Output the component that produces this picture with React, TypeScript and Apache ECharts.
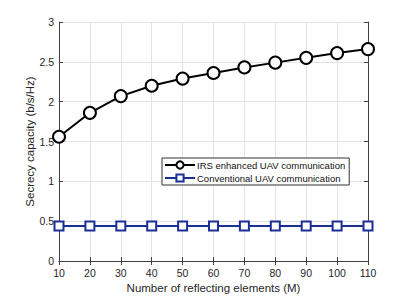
import React, { useEffect, useRef } from "react";
import * as echarts from "echarts";

const elements = [10, 20, 30, 40, 50, 60, 70, 80, 90, 100, 110];
const irsValues = [1.56, 1.86, 2.07, 2.2, 2.29, 2.36, 2.43, 2.49, 2.55, 2.61, 2.66];
const convValues = [0.44, 0.44, 0.44, 0.44, 0.44, 0.44, 0.44, 0.44, 0.44, 0.44, 0.44];
const seriesNames = ["IRS enhanced UAV communication", "Conventional UAV communication"];

const FONT = "Liberation Sans, Arial, Helvetica, sans-serif";
const AXIS_COLOR = "#404040";
const GRID_COLOR = "#e3e3e3";

export default function App() {
  const ref = useRef<HTMLDivElement>(null);
  useEffect(() => {
    if (!ref.current) return;
    const chart = echarts.init(ref.current, null, { renderer: "svg" });
    const tickCommon = { show: true, inside: true, length: 4, lineStyle: { color: AXIS_COLOR, width: 1 } };
    const lineCommon = { show: true, lineStyle: { color: AXIS_COLOR, width: 1 } };
    chart.setOption({
      animation: false,
      backgroundColor: "#ffffff",
      textStyle: { fontFamily: FONT },
      grid: { left: 59, right: 31, top: 22, bottom: 34, containLabel: false },
      legend: {
        orient: "vertical",
        left: 162,
        top: 158,
        data: seriesNames,
        itemWidth: 30,
        itemHeight: 9,
        itemGap: 3,
        padding: [2, 4, 2, 2],
        borderColor: "#333333",
        borderWidth: 1,
        backgroundColor: "#ffffff",
        textStyle: { fontSize: 9.5, color: "#111111", fontFamily: FONT, padding: [0, 0, 0, -3] },
      },
      xAxis: [
        {
          type: "value",
          min: 10,
          max: 110,
          interval: 10,
          position: "bottom",
          name: "Number of reflecting elements (M)",
          nameLocation: "middle",
          nameMoveOverlap: false,
          nameGap: 21,
          nameTextStyle: { fontSize: 11.5, color: "#262626", fontFamily: FONT },
          axisLine: lineCommon,
          axisTick: tickCommon,
          axisLabel: { fontSize: 10.5, color: "#262626", margin: 6, fontFamily: FONT },
          splitLine: { show: true, lineStyle: { color: GRID_COLOR, width: 1 } },
        },
        {
          type: "value",
          min: 10,
          max: 110,
          interval: 10,
          position: "top",
          axisLine: lineCommon,
          axisTick: tickCommon,
          axisLabel: { show: false },
          splitLine: { show: false },
        },
      ],
      yAxis: [
        {
          type: "value",
          min: 0,
          max: 3,
          interval: 0.5,
          position: "left",
          name: "Secrecy capacity (b/s/Hz)",
          nameLocation: "middle",
          nameMoveOverlap: false,
          nameGap: 23,
          nameTextStyle: { fontSize: 11.5, color: "#262626", fontFamily: FONT },
          axisLine: lineCommon,
          axisTick: tickCommon,
          axisLabel: { fontSize: 10.5, color: "#262626", margin: 5, fontFamily: FONT },
          splitLine: { show: true, lineStyle: { color: GRID_COLOR, width: 1 } },
        },
        {
          type: "value",
          min: 0,
          max: 3,
          interval: 0.5,
          position: "right",
          axisLine: lineCommon,
          axisTick: tickCommon,
          axisLabel: { show: false },
          splitLine: { show: false },
        },
      ],
      series: [
        {
          name: seriesNames[0],
          type: "line",
          data: elements.map((x, i) => [x, irsValues[i]]),
          symbol: "circle",
          symbolSize: 12,
          showAllSymbol: true,
          lineStyle: { color: "#000000", width: 2 },
          itemStyle: { color: "#ffffff", borderColor: "#000000", borderWidth: 2 },
          z: 3,
        },
        {
          name: seriesNames[1],
          type: "line",
          data: elements.map((x, i) => [x, convValues[i]]),
          symbol: "rect",
          symbolSize: 9,
          showAllSymbol: true,
          lineStyle: { color: "#1a2f96", width: 2 },
          itemStyle: { color: "#ffffff", borderColor: "#1a2f96", borderWidth: 2 },
          z: 3,
        },
      ],
    });
    return () => chart.dispose();
  }, []);
  return <div ref={ref} style={{ position: "fixed", left: 0, top: 0, width: 399, height: 299 }} />;
}
